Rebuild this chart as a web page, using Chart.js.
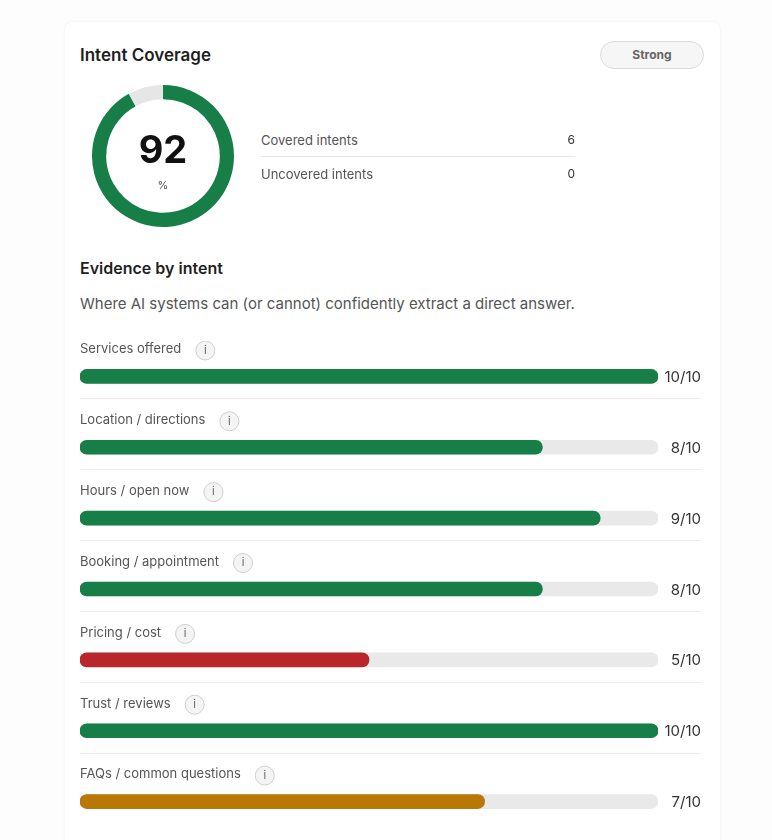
<!DOCTYPE html>
<html lang="en">
<head>
  <meta charset="UTF-8">
  <title>Intent Coverage</title>
  <script src="https://cdn.jsdelivr.net/npm/chart.js"></script>
  <style>
    body { margin: 0; background: #fdfdfd; font-family: Inter, "Noto Sans", sans-serif; }
    .card { position: absolute; left: 65px; top: 22px; width: 655px; height: 830px; background: #fff;
            border-radius: 8px; box-shadow: 0 0 3px rgba(0,0,0,0.06); }
    h1 { position: absolute; left: 80px; top: 45px; margin: 0; font-size: 17px; font-weight: 600; color: #1f1f1f; }
    .pill { position: absolute; left: 600px; top: 41px; width: 102px; height: 26px; border: 1px solid #dcdcdc;
            border-radius: 14px; background: #f6f6f6; text-align: center; line-height: 26px;
            font-size: 12px; font-weight: 700; color: #666; }
    #donutWrap { position: absolute; left: 92px; top: 85px; width: 142px; height: 142px; }
    .big { position: absolute; left: 92px; width: 142px; text-align: center; top: 126px; font-size: 38px;
           font-weight: 700; color: #111; line-height: 46px; }
    .pct { position: absolute; left: 92px; width: 142px; text-align: center; top: 178px; font-size: 11px; color: #555; }
    .stat { position: absolute; left: 261px; width: 314px; font-size: 13px; color: #555; }
    .stat span { position: absolute; right: 0; font-size: 12px; color: #333; }
    .sep { position: absolute; left: 261px; top: 156px; width: 314px; height: 1px; background: #e6e6e6; }
    h2 { position: absolute; left: 80px; top: 258px; margin: 0; font-size: 16px; font-weight: 600; color: #1f1f1f; }
    .sub { position: absolute; left: 80px; top: 294px; font-size: 15px; color: #555; }
    #barWrap { position: absolute; left: 0; top: 341px; width: 772px; height: 496px; }
  </style>
</head>
<body>
  <div class="card"></div>
  <h1>Intent Coverage</h1>
  <div class="pill">Strong</div>
  <div id="donutWrap"><canvas id="donutChart"></canvas></div>
  <div class="big" id="bigNum"></div>
  <div class="pct">%</div>
  <div class="stat" style="top:132px">Covered intents<span id="covered"></span></div>
  <div class="sep"></div>
  <div class="stat" style="top:166px">Uncovered intents<span id="uncovered"></span></div>
  <h2>Evidence by intent</h2>
  <div class="sub">Where AI systems can (or cannot) confidently extract a direct answer.</div>
  <div id="barWrap"><canvas id="barChart"></canvas></div>

  <script>
    // coverage summary
    const coveragePct = 92;
    const coveredIntents = 6;
    const uncoveredIntents = 0;

    // evidence by intent
    const intents = ['Services offered', 'Location / directions', 'Hours / open now', 'Booking / appointment',
                     'Pricing / cost', 'Trust / reviews', 'FAQs / common questions'];
    const scores = [10, 8, 9, 8, 5, 10, 7];
    const maxScore = 10;

    const GREEN = '#177e47', AMBER = '#b97706', RED = '#b8282b', TRACK = '#e9e9e9';
    function scoreColor(v) {
      if (v >= 8) return GREEN;
      if (v >= 6) return AMBER;
      return RED;
    }

    document.getElementById('bigNum').textContent = coveragePct;
    document.getElementById('covered').textContent = coveredIntents;
    document.getElementById('uncovered').textContent = uncoveredIntents;

    new Chart(document.getElementById('donutChart'), {
      type: 'doughnut',
      data: {
        datasets: [{
          data: [coveragePct, 100 - coveragePct],
          backgroundColor: [GREEN, '#e6e6e6'],
          borderWidth: 0
        }]
      },
      options: {
        responsive: true,
        maintainAspectRatio: false,
        cutout: '80%',
        animation: false,
        plugins: { legend: { display: false }, tooltip: { enabled: false } }
      }
    });

    // labels, info icons, score text and dividers around each bar
    const rowDecor = {
      id: 'rowDecor',
      afterDatasetsDraw(chart) {
        const ctx = chart.ctx;
        const y = chart.scales.y;
        const left = chart.chartArea.left;
        ctx.save();
        intents.forEach((name, i) => {
          const cy = y.getPixelForValue(i);
          ctx.font = '13px Inter, "Noto Sans", sans-serif';
          ctx.fillStyle = '#555';
          ctx.textBaseline = 'middle';
          ctx.textAlign = 'left';
          ctx.fillText(name, left, cy - 27);
          const w = ctx.measureText(name).width;
          const ix = left + w + 24;
          ctx.beginPath();
          ctx.arc(ix, cy - 26, 9.5, 0, Math.PI * 2);
          ctx.fillStyle = '#f4f4f4';
          ctx.fill();
          ctx.strokeStyle = '#cfcfcf';
          ctx.lineWidth = 1;
          ctx.stroke();
          ctx.fillStyle = '#666';
          ctx.font = '11px Inter, "Noto Sans", sans-serif';
          ctx.textAlign = 'center';
          ctx.fillText('i', ix, cy - 26);
          ctx.font = '15px Inter, "Noto Sans", sans-serif';
          ctx.fillStyle = '#333';
          ctx.textAlign = 'right';
          ctx.fillText(scores[i] + '/' + maxScore, 701, cy + 1);
          if (i < intents.length - 1) {
            ctx.fillStyle = '#ececec';
            ctx.fillRect(left, Math.round(cy + 22), 621, 1);
          }
        });
        ctx.restore();
      }
    };

    new Chart(document.getElementById('barChart'), {
      type: 'bar',
      data: {
        labels: intents,
        datasets: [
          {
            data: scores,
            backgroundColor: scores.map(scoreColor),
            barThickness: 14,
            borderRadius: 7,
            borderSkipped: false,
            grouped: false,
            order: 0
          },
          {
            data: intents.map(() => maxScore),
            backgroundColor: TRACK,
            barThickness: 14,
            borderRadius: 7,
            borderSkipped: false,
            grouped: false,
            order: 1
          }
        ]
      },
      options: {
        indexAxis: 'y',
        responsive: true,
        maintainAspectRatio: false,
        animation: false,
        layout: { padding: { left: 80, right: 114, top: 0, bottom: 0 } },
        scales: {
          x: { display: false, min: 0, max: maxScore },
          y: { display: false }
        },
        plugins: { legend: { display: false }, tooltip: { enabled: false } }
      },
      plugins: [rowDecor]
    });
  </script>
</body>
</html>
